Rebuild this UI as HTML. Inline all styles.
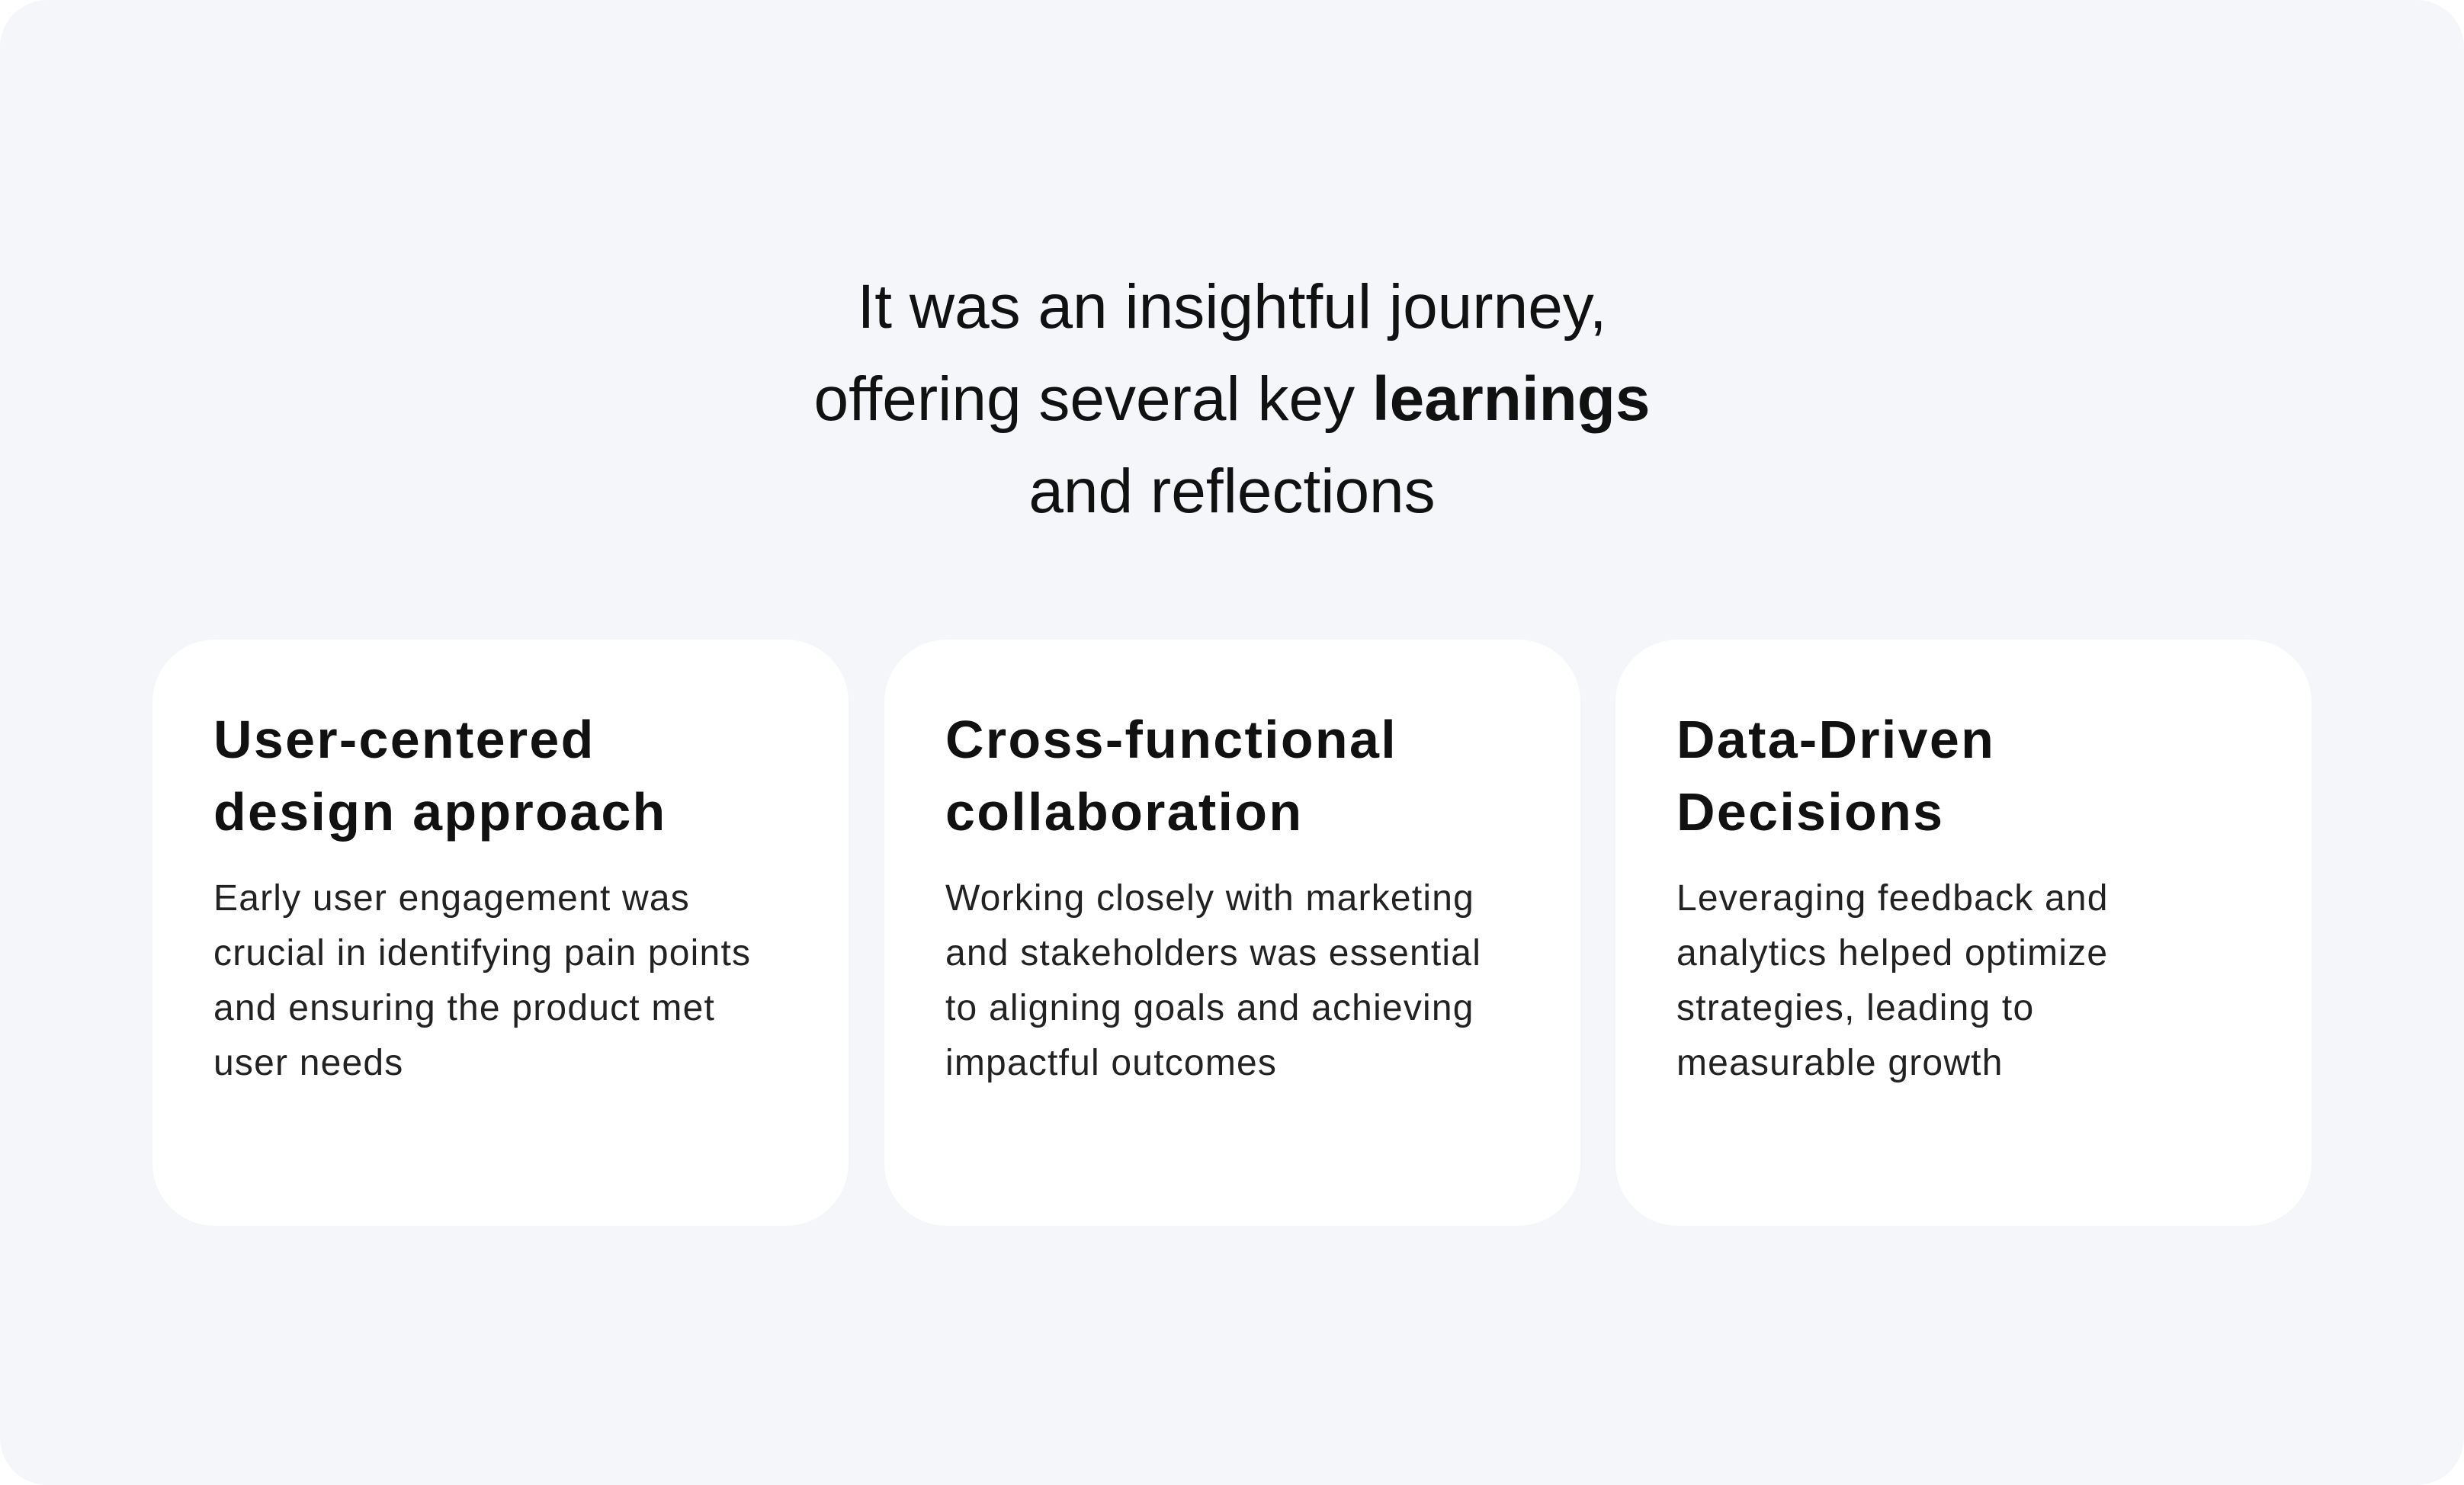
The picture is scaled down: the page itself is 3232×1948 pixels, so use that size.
<!DOCTYPE html>
<html><head><meta charset="utf-8"><style>
html,body{margin:0;padding:0;background:#fff;}
body{width:3232px;height:1948px;position:relative;overflow:hidden;font-family:"Liberation Sans",sans-serif;color:#111;}
.bg{position:absolute;left:0;top:0;width:3232px;height:1948px;background:#f5f6fa;border-radius:62px;}
.head{position:absolute;left:0;width:3232px;top:342px;text-align:center;font-size:82px;line-height:121px;letter-spacing:0px;color:#111;}
.head b{font-weight:bold;}
.card{position:absolute;top:839px;width:913px;height:769px;background:#fff;border-radius:82px;}
.t{position:absolute;left:80px;top:84px;font-size:70px;line-height:95px;font-weight:bold;letter-spacing:2.3px;}
.p{position:absolute;left:80px;top:304px;width:800px;font-size:48px;line-height:72px;color:#222;letter-spacing:1.2px;}
</style></head><body>
<div class="bg"></div>
<div class="head">It was an insightful journey,<br>offering several key <b>learnings</b><br>and reflections</div>
<div class="card" style="left:200px"><div class="t">User-centered<br>design approach</div><div class="p">Early user engagement was<br>crucial in identifying pain points<br>and ensuring the product met<br>user needs</div></div>
<div class="card" style="left:1160px"><div class="t">Cross-functional<br>collaboration</div><div class="p">Working closely with marketing<br>and stakeholders was essential<br>to aligning goals and achieving<br>impactful outcomes</div></div>
<div class="card" style="left:2119px"><div class="t">Data-Driven<br>Decisions</div><div class="p">Leveraging feedback and<br>analytics helped optimize<br>strategies, leading to<br>measurable growth</div></div>
</body></html>
